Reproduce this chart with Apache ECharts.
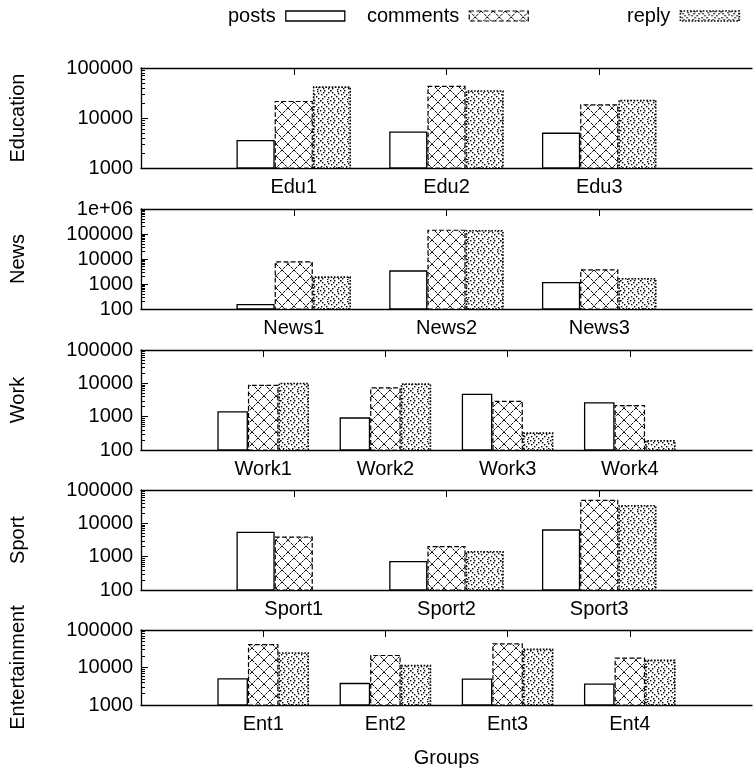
<!DOCTYPE html>
<html><head><meta charset="utf-8">
<script src="https://cdn.jsdelivr.net/npm/echarts@6/dist/echarts.min.js"></script>
<style>html,body{margin:0;padding:0;background:#fff}#c{width:755px;height:769px}</style>
</head><body><div id="c"></div>
<script>
const seriesNames = ['posts', 'comments', 'reply'];

const eduCats = ['Edu1', 'Edu2', 'Edu3'];
const eduPosts = [3640, 5360, 5100];
const eduComments = [22000, 44000, 18900];
const eduReply = [43000, 35900, 23300];
const eduTicks = [1000, 10000, 100000];

const newsCats = ['News1', 'News2', 'News3'];
const newsPosts = [158, 3520, 1200];
const newsComments = [8070, 149000, 3860];
const newsReply = [2030, 145000, 1740];
const newsTicks = [100, 1000, 10000, 100000, 1000000];

const workCats = ['Work1', 'Work2', 'Work3', 'Work4'];
const workPosts = [1450, 955, 4900, 2700];
const workComments = [9100, 7600, 3000, 2240];
const workReply = [10500, 10000, 340, 200];
const workTicks = [100, 1000, 10000, 100000];

const sportCats = ['Sport1', 'Sport2', 'Sport3'];
const sportPosts = [5600, 740, 6600];
const sportComments = [4000, 2090, 51000];
const sportReply = [null, 1480, 35500];
const sportTicks = [100, 1000, 10000, 100000];

const entCats = ['Ent1', 'Ent2', 'Ent3', 'Ent4'];
const entPosts = [5200, 3900, 5100, 3760];
const entComments = [42500, 21700, 44200, 18400];
const entReply = [25500, 11800, 31900, 16300];
const entTicks = [1000, 10000, 100000];

const FONT = '"Liberation Sans", Arial, Helvetica, sans-serif';

function commentsPattern() {
  const S = 12;
  const c = document.createElement('canvas'); c.width = S; c.height = S;
  const g = c.getContext('2d');
  g.fillStyle = '#fff'; g.fillRect(0, 0, S, S);
  g.strokeStyle = '#000'; g.lineWidth = 1;
  g.setLineDash([3, 1]);
  g.beginPath(); g.moveTo(0, 0); g.lineTo(S, S); g.moveTo(S, 0); g.lineTo(0, S); g.stroke();
  return c;
}
function replyPattern() {
  const S = 20;
  const c = document.createElement('canvas'); c.width = S; c.height = S;
  const g = c.getContext('2d');
  g.fillStyle = '#fff'; g.fillRect(0, 0, S, S);
  g.fillStyle = '#000';
  const dot = (x, y) => g.fillRect(((Math.round(x) % S) + S) % S, ((Math.round(y) % S) + S) % S, 1.4, 1.4);
  for (let t = 0; t < S; t += 2) {
    dot(t, t); dot(S - t, t);
  }
  const centers = [[10, 0], [0, 10]];
  centers.forEach(([cx, cy]) => {
    for (let a = 0; a < 360; a += 40) {
      const r = a * Math.PI / 180;
      dot(cx + 3.6 * Math.cos(r), cy + 3.6 * Math.sin(r));
    }
    dot(cx, cy);
  });
  return c;
}
const patC = { image: commentsPattern(), repeat: 'repeat' };
const patR = { image: replyPattern(), repeat: 'repeat' };

const styles = {
  posts: { color: '#fff', borderColor: '#000', borderWidth: 1.3, borderType: 'solid' },
  comments: { color: patC, borderColor: '#000', borderWidth: 1.2, borderType: 'dashed' },
  reply: { color: patR, borderColor: '#000', borderWidth: 1.6, borderType: 'dotted' }
};

const panels = [
  { name: 'Education', cats: eduCats, vals: [eduPosts, eduComments, eduReply], ticks: eduTicks, top: 68, height: 100 },
  { name: 'News', cats: newsCats, vals: [newsPosts, newsComments, newsReply], ticks: newsTicks, top: 209, height: 100 },
  { name: 'Work', cats: workCats, vals: [workPosts, workComments, workReply], ticks: workTicks, top: 350, height: 100 },
  { name: 'Sport', cats: sportCats, vals: [sportPosts, sportComments, sportReply], ticks: sportTicks, top: 490, height: 100 },
  { name: 'Entertainment', cats: entCats, vals: [entPosts, entComments, entReply], ticks: entTicks, top: 630, height: 75 }
];

const grid = [], xAxis = [], yAxis = [], series = [];
const black = { color: '#000', width: 1.3 };
const fmt = v => (v >= 999999 ? '1e+06' : String(Math.round(v)));

panels.forEach((p, i) => {
  grid.push({ left: 141, right: -8, top: p.top, height: p.height });
  const cats = [''].concat(p.cats, ['']);
  const showTick = (idx, val) => val !== '';
  const minorVals = [];
  for (let k = 0; k < p.ticks.length - 1; k++) {
    for (let m = 2; m <= 9; m++) minorVals.push(p.ticks[k] * m);
  }
  const isLast = i === panels.length - 1;
  xAxis.push({
    type: 'category', gridIndex: i, data: cats, boundaryGap: false, position: 'bottom',
    axisLine: { show: true, lineStyle: black },
    axisTick: { show: true, inside: true, length: 7, interval: showTick, lineStyle: { color: '#000' } },
    axisLabel: { show: true, interval: 0, color: '#000', fontSize: 20, fontFamily: FONT, margin: 9 },
    name: isLast ? 'Groups' : '', nameLocation: 'middle', nameGap: 43,
    nameTextStyle: { color: '#000', fontSize: 20, fontFamily: FONT }
  });
  xAxis.push({
    type: 'category', gridIndex: i, data: cats, boundaryGap: false, position: 'top',
    axisLine: { show: true, lineStyle: black },
    axisTick: { show: true, inside: true, length: 7, interval: showTick, lineStyle: { color: '#000' } },
    axisLabel: { show: false }
  });
  const lo = p.ticks[0], hi = p.ticks[p.ticks.length - 1];
  yAxis.push({
    type: 'log', logBase: 10, gridIndex: i, min: lo, max: hi, position: 'left',
    axisLine: { show: true, lineStyle: black },
    axisTick: { show: true, inside: true, length: 7, customValues: p.ticks, lineStyle: { color: '#000' } },
    axisLabel: { customValues: p.ticks, formatter: fmt, color: '#000', fontSize: 20, fontFamily: FONT, margin: 8 },
    splitLine: { show: false },
    name: p.name, nameLocation: 'middle', nameRotate: 90, nameGap: 113,
    nameTextStyle: { color: '#000', fontSize: 20, fontFamily: FONT }
  });
  yAxis.push({
    type: 'log', logBase: 10, gridIndex: i, min: lo, max: hi, position: 'left',
    axisLine: { show: false },
    axisTick: { show: true, inside: true, length: 4, customValues: minorVals, lineStyle: { color: '#000' } },
    axisLabel: { show: false },
    splitLine: { show: false }
  });
  seriesNames.forEach((sn, k) => {
    series.push({
      type: 'bar', name: sn, xAxisIndex: 2 * i, yAxisIndex: 2 * i,
      data: [null].concat(p.vals[k], [null]),
      barWidth: '25%', barGap: '0%',
      itemStyle: styles[sn], clip: true, silent: true
    });
  });
});

function legendAt(name, left) {
  return {
    left: left, top: 1, align: 'right', selectedMode: false, itemWidth: 59, itemHeight: 10,
    data: [{ name: name, icon: 'rect', itemStyle: styles[name] }],
    textStyle: { color: '#000', fontSize: 20, fontFamily: FONT, padding: [0, 5, 0, 0] }
  };
}

const chart = echarts.init(document.getElementById('c'), null, { renderer: 'canvas' });
chart.setOption({
  animation: false,
  backgroundColor: '#fff',
  legend: [legendAt('posts', 223), legendAt('comments', 362), legendAt('reply', 622)],
  grid, xAxis, yAxis, series
});
</script></body></html>
